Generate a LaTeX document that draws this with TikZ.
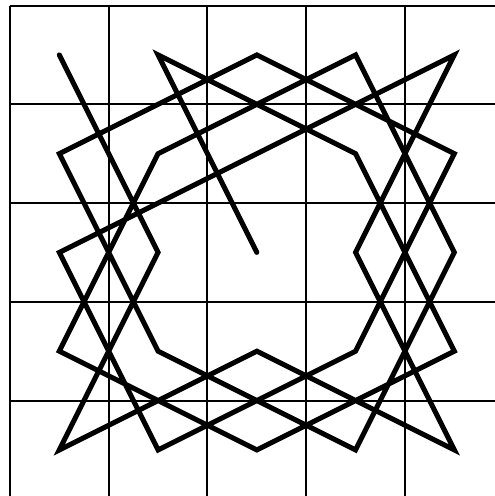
\documentclass[tikz,border=0pt]{standalone}
\usepackage{tikz}
\usetikzlibrary{calc}
\tikzset{>=latex}
\tikzset{gridline/.style={line width=0.58pt, black},
  turtle/.style={line width=1.45pt, black, line cap=round, line join=miter}}

\begin{document}
\begin{tikzpicture}
            \useasboundingbox (-0.101,0.056) rectangle (4.911,-4.967);
            % grid, running off the right and bottom edges
            \foreach \k in {0,...,4} {
                \draw[gridline] (\k,0) -- (\k,-4.967);
                \draw[gridline] (0,-\k) -- (4.911,-\k);
            }
            % the walk, from the top left corner to the centre
            \draw[turtle] (0.5,-0.5) -- (1.5,-2.5) -- (0.5,-4.5) -- (2.5,-3.5) -- (4.5,-4.5)
                -- (3.5,-2.5) -- (4.5,-0.5) -- (0.5,-2.5) -- (1.5,-4.5) -- (3.5,-3.5)
                -- (4.5,-1.5) -- (2.5,-0.5) -- (0.5,-1.5) -- (1.5,-3.5) -- (3.5,-4.5)
                -- (4.5,-2.5) -- (3.5,-0.5) -- (1.5,-1.5) -- (0.5,-3.5) -- (2.5,-4.5)
                -- (4.5,-3.5) -- (3.5,-1.5) -- (1.5,-0.5) -- (2.5,-2.5);
        \end{tikzpicture}
\end{document}
